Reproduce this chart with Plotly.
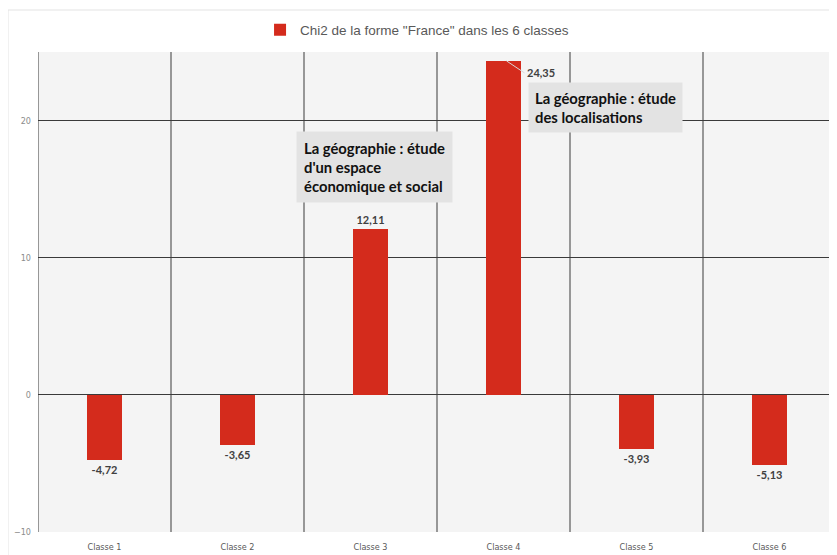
import plotly.graph_objects as go

categories = ["Classe 1", "Classe 2", "Classe 3", "Classe 4", "Classe 5", "Classe 6"]
chi2_values = [-4.72, -3.65, 12.11, 24.35, -3.93, -5.13]
series_name = 'Chi2 de la forme "France" dans les 6 classes'
y_ticks = [-10, 0, 10, 20]
note_classe3 = "La géographie : étude<br>d'un espace<br>économique et social"
note_classe4 = "La géographie : étude<br>des localisations"

def fmt(v):
    return f"{v:.2f}".replace(".", ",")

labels = [fmt(v) if c != "Classe 4" else "" for c, v in zip(categories, chi2_values)]

BAR = "#d42b1c"
fig = go.Figure()
fig.add_trace(go.Bar(
    x=categories, y=chi2_values, name=series_name,
    marker=dict(color=BAR, line=dict(width=0)),
    width=0.27,
    text=labels, textposition="outside",
    textfont=dict(family="Lato", size=11, color="#404040", weight="bold"),
    cliponaxis=False,
    showlegend=True,
))

# vertical category separators
shapes = []
for i in range(len(categories) + 1):
    shapes.append(dict(type="line", xref="x", yref="paper", x0=i - 0.5, x1=i - 0.5,
                       y0=0, y1=1, line=dict(color="#3a3a3a", width=1), layer="below"))
# outer light frame
shapes.append(dict(type="rect", xref="paper", yref="paper", x0=-0.0376, x1=1.1,
                   y0=-0.2, y1=1.0875, line=dict(color="#e3e3e3", width=1), layer="below"))

annotations = [
    dict(x=3, y=chi2_values[3], xref="x", yref="y", text=fmt(chi2_values[3]),
         showarrow=True, arrowhead=0, arrowwidth=1, arrowcolor="#d8d8d8",
         ax=18, ay=12, xshift=3, xanchor="left",
         font=dict(family="Lato", size=11, color="#404040", weight="bold")),
    dict(x=2.03, y=16.6, xref="x", yref="y", text=note_classe3, showarrow=False,
         align="left", bgcolor="#e3e3e3", borderpad=7,
         font=dict(family="Lato", size=14.8, color="#111111", weight="bold")),
    dict(x=3.77, y=20.95, xref="x", yref="y", text=note_classe4, showarrow=False,
         align="left", bgcolor="#e3e3e3", borderpad=6,
         font=dict(family="Lato", size=14.8, color="#111111", weight="bold")),
]

fig.update_layout(
    width=829, height=547,
    margin=dict(l=30, r=1, t=44, b=23, autoexpand=False),
    paper_bgcolor="white", plot_bgcolor="#f4f4f4",
    shapes=shapes, annotations=annotations,
    bargap=0,
    legend=dict(orientation="h", x=0.475, xanchor="center", y=1.046, yanchor="middle",
                font=dict(family="Liberation Sans", size=13.5, color="#595959"),
                itemwidth=30, bgcolor="rgba(0,0,0,0)"),
    xaxis=dict(showgrid=False, showline=False, ticks="", automargin=False,
               ticklabelstandoff=8,
               tickfont=dict(family="DejaVu Sans Condensed", size=9, color="#595959"),
               range=[-0.5, 5.5]),
    yaxis=dict(range=[-10, 25], tickvals=y_ticks, showgrid=True, gridcolor="#3a3a3a",
               gridwidth=1, zeroline=True, zerolinecolor="#3a3a3a", zerolinewidth=1,
               showline=False, ticks="", automargin=False, ticklabelstandoff=6,
               tickfont=dict(family="DejaVu Sans Condensed", size=9, color="#8c8c8c")),
)

fig.write_html("out.html")
